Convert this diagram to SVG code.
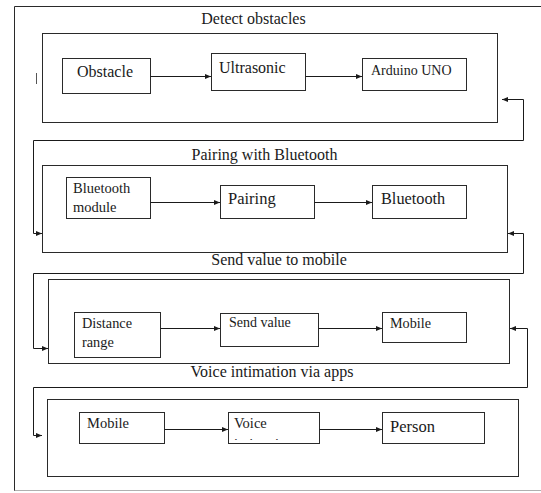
<svg xmlns="http://www.w3.org/2000/svg" width="541" height="493" viewBox="0 0 541 493">
<style>
.frame{fill:none;stroke:#2a2a2a;stroke-width:1}
.panel{fill:none;stroke:#2a2a2a;stroke-width:1}
.box{fill:#fff;stroke:#2a2a2a;stroke-width:1}
.t{font-family:"Liberation Serif","DejaVu Serif","Times New Roman",serif;fill:#1a1a1a}
.ttl{font-size:16px;text-anchor:middle}
.conn{fill:none;stroke:#1a1a1a;stroke-width:1}
</style>
<defs>
<marker id="ah" viewBox="0 0 6 6" refX="6" refY="3" markerWidth="6" markerHeight="6" orient="auto-start-reverse" markerUnits="userSpaceOnUse">
<path d="M0,0.6 L6,3 L0,5.4 z" fill="#1a1a1a"/>
</marker>
<clipPath id="voiceclip"><rect x="229" y="413" width="90" height="27"/></clipPath>
</defs>

<g id="frame">
<path class="frame" d="M541,6.5 H14.5 V491"/>
<path d="M14.5,490.5 H541" stroke="#b0b0b0" stroke-width="1" fill="none"/>
<path d="M36.5,73 V84" stroke="#555" stroke-width="1"/>
</g>

<g id="panel1">
<rect class="panel" x="42.5" y="33.5" width="455" height="89"/>
<text class="t ttl" x="253.5" y="24">Detect obstacles</text>
</g>
<g id="obstacle">
<rect class="box" x="62.5" y="58.5" width="88" height="35"/>
<text class="t" x="77" y="77" font-size="16">Obstacle</text>
</g>
<g id="ultrasonic">
<rect class="box" x="211.5" y="53.5" width="94" height="37"/>
<text class="t" x="219" y="73" font-size="16">Ultrasonic</text>
</g>
<g id="arduino">
<rect class="box" x="362.5" y="58.5" width="104" height="32"/>
<text class="t" x="371" y="75" font-size="14">Arduino UNO</text>
</g>

<g id="panel2">
<rect class="panel" x="42.5" y="165.5" width="465" height="87"/>
<text class="t ttl" x="264.5" y="160">Pairing with Bluetooth</text>
</g>
<g id="btmodule">
<rect class="box" x="66.5" y="177.5" width="84" height="41"/>
<text class="t" x="73" y="193" font-size="14.5">Bluetooth</text>
<text class="t" x="73" y="212" font-size="14.5">module</text>
</g>
<g id="pairing">
<rect class="box" x="220.5" y="185.5" width="94" height="33"/>
<text class="t" x="228" y="204" font-size="16.5">Pairing</text>
</g>
<g id="bluetooth">
<rect class="box" x="372.5" y="185.5" width="94" height="33"/>
<text class="t" x="381" y="204" font-size="16.3">Bluetooth</text>
</g>

<g id="panel3">
<rect class="panel" x="48.5" y="279.5" width="461" height="84"/>
<text class="t ttl" x="279" y="265">Send value to mobile</text>
</g>
<g id="distance">
<rect class="box" x="74.5" y="312.5" width="86" height="45"/>
<text class="t" x="82" y="328" font-size="14.3">Distance</text>
<text class="t" x="82" y="347" font-size="14.3">range</text>
</g>
<g id="sendvalue">
<rect class="box" x="220.5" y="313.5" width="98" height="33"/>
<text class="t" x="229" y="327" font-size="14">Send value</text>
</g>
<g id="mobile1">
<rect class="box" x="382.5" y="312.5" width="84" height="30"/>
<text class="t" x="390" y="328" font-size="14.2">Mobile</text>
</g>

<g id="panel4">
<rect class="panel" x="47.5" y="399.5" width="471" height="77"/>
<text class="t ttl" x="272" y="377">Voice intimation via apps</text>
</g>
<g id="mobile2">
<rect class="box" x="79.5" y="412.5" width="85" height="31"/>
<text class="t" x="87" y="428" font-size="14.5">Mobile</text>
</g>
<g id="voice">
<rect class="box" x="228.5" y="412.5" width="91" height="31"/>
<text class="t" x="234" y="428" font-size="14.5">Voice</text>
<text class="t" x="234" y="448.5" font-size="14.5" clip-path="url(#voiceclip)">intimation</text>
</g>
<g id="person">
<rect class="box" x="382.5" y="412.5" width="102" height="31"/>
<text class="t" x="390" y="432" font-size="16.5">Person</text>
</g>

<g id="connectors">
<path class="conn" d="M150.5,76.5 H211" marker-end="url(#ah)"/>
<path class="conn" d="M305.5,76.5 H362" marker-end="url(#ah)"/>
<path class="conn" d="M150.5,202.5 H220" marker-end="url(#ah)"/>
<path class="conn" d="M314.5,202.5 H372" marker-end="url(#ah)"/>
<path class="conn" d="M160.5,328.5 H220" marker-end="url(#ah)"/>
<path class="conn" d="M318.5,328.5 H382" marker-end="url(#ah)"/>
<path class="conn" d="M164.5,429.5 H228" marker-end="url(#ah)"/>
<path class="conn" d="M319.5,429.5 H382" marker-end="url(#ah)"/>
<path class="conn" d="M502,99.5 H523.5 V140.5 H33.5 V233.5 H42" marker-start="url(#ah)" marker-end="url(#ah)"/>
<path class="conn" d="M508,233.5 H523.5 V273.5 H33.5 V348.5 H48" marker-start="url(#ah)" marker-end="url(#ah)"/>
<path class="conn" d="M510,328.5 H527.5 V387.5 H33.5 V435.5 H42" marker-start="url(#ah)" marker-end="url(#ah)"/>
</g>
</svg>
